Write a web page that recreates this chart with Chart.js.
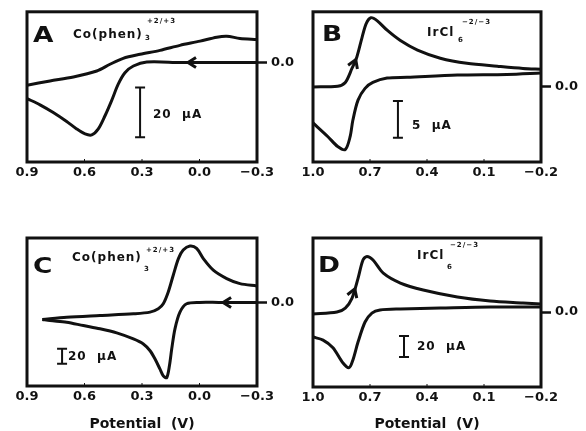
<!DOCTYPE html>
<html lang="en">
<head>
<meta charset="UTF-8">
<title>Cyclic voltammograms A-D</title>
<script src="https://cdn.jsdelivr.net/npm/chart.js"></script>
<style>
body { margin: 0; background: #fff; }
#wrap { position: relative; width: 586px; height: 431px; overflow: hidden; }
canvas { position: absolute; left: 0; top: 0; }
.t { position: absolute; font-family: "DejaVu Sans", sans-serif; font-weight: bold; color: #111; white-space: pre; line-height: 1; }
.big { font-size: 22px; transform: scaleX(1.2); transform-origin: left top; }
.sp { font-size: 12px; letter-spacing: 1px; }
.sm { font-size: 7px; letter-spacing: 1px; }
.bar { font-size: 12px; letter-spacing: 1px; }
</style>
</head>
<body>
<div id="wrap">
  <canvas id="cA" width="586" height="431"></canvas>
  <canvas id="cB" width="586" height="431"></canvas>
  <canvas id="cC" width="586" height="431"></canvas>
  <canvas id="cD" width="586" height="431"></canvas>

  <div class="t big" style="left:33px;top:24px">A</div>
  <div class="t sp" style="left:73px;top:28px">Co(phen)</div>
  <div class="t sm" style="left:145px;top:35px">3</div>
  <div class="t sm" style="left:147px;top:18px">+2/+3</div>
  <div class="t bar" style="left:153px;top:108px">20  µA</div>

  <div class="t big" style="left:322px;top:23px">B</div>
  <div class="t sp" style="left:427px;top:26px">IrCl</div>
  <div class="t sm" style="left:458px;top:37px">6</div>
  <div class="t sm" style="left:462px;top:19px">−2/−3</div>
  <div class="t bar" style="left:412px;top:119px">5  µA</div>

  <div class="t big" style="left:33px;top:255px">C</div>
  <div class="t sp" style="left:72px;top:251px">Co(phen)</div>
  <div class="t sm" style="left:144px;top:266px">3</div>
  <div class="t sm" style="left:146px;top:247px">+2/+3</div>
  <div class="t bar" style="left:68px;top:350px">20  µA</div>

  <div class="t big" style="left:318px;top:254px">D</div>
  <div class="t sp" style="left:417px;top:249px">IrCl</div>
  <div class="t sm" style="left:447px;top:264px">6</div>
  <div class="t sm" style="left:450px;top:242px">−2/−3</div>
  <div class="t bar" style="left:417px;top:340px">20  µA</div>
</div>
<script>
// potential (V) and current (uA)
const ticksCo = [0.9, 0.6, 0.3, 0.0, -0.3];
const ticksIr = [1.0, 0.7, 0.4, 0.1, -0.2];

const potA_fwd = [-0.30, -0.10, 0.10, 0.275, 0.345, 0.389, 0.424, 0.459, 0.493, 0.528, 0.562, 0.597, 0.641, 0.693, 0.763, 0.832, 0.90];
const curA_fwd = [0, 0, 0, 0.2, -1.4, -4.1, -8.7, -15.4, -21.4, -26.7, -29.1, -28.7, -26.7, -23.7, -20.1, -17.0, -14.5];
const potA_rev = [0.90, 0.78, 0.658, 0.536, 0.467, 0.398, 0.31, 0.206, 0.102, -0.003, -0.09, -0.142, -0.211, -0.298];
const curA_rev = [-9.1, -7.4, -5.8, -3.4, -0.7, 1.7, 3.3, 4.9, 6.9, 8.6, 10.2, 10.6, 9.7, 9.3];

const potB_fwd = [1.0, 0.87, 0.83, 0.795, 0.77, 0.742, 0.72, 0.695, 0.663, 0.61, 0.54, 0.45, 0.33, 0.19, 0.03, -0.105, -0.2];
const curB_fwd = [-0.1, 0, 0.5, 2.4, 3.9, 6.6, 8.5, 9.3, 8.9, 7.6, 6.2, 4.9, 3.8, 3.1, 2.7, 2.4, 2.3];
const potB_rev = [-0.2, -0.02, 0.24, 0.505, 0.61, 0.685, 0.726, 0.763, 0.79, 0.805, 0.83, 0.87, 0.92, 1.0];
const curB_rev = [1.8, 1.6, 1.5, 1.2, 1.1, 0.5, -0.3, -1.9, -4.6, -6.9, -8.6, -8.2, -6.9, -5.0];

const potC_fwd = [-0.30, -0.10, 0.0, 0.067, 0.102, 0.128, 0.145, 0.157, 0.171, 0.189, 0.206, 0.232, 0.258, 0.293, 0.345, 0.432, 0.519, 0.606, 0.693, 0.78, 0.82];
const curC_fwd = [0, 0, 0, -1.8, -12.9, -35, -61.8, -84, -99.6, -97.3, -88.4, -75, -64, -55, -48.4, -40.4, -35, -30.7, -26.2, -24, -22.5];
const potC_rev = [0.82, 0.693, 0.519, 0.345, 0.258, 0.215, 0.189, 0.163, 0.137, 0.11, 0.085, 0.05, 0.015, -0.02, -0.072, -0.142, -0.211, -0.298];
const curC_rev = [-22.5, -19.6, -17.3, -15.1, -12.9, -8.4, -1.8, 13.8, 36, 58, 69.3, 74.7, 71.6, 58, 42.7, 31.6, 24.9, 21.8];

const potD_fwd = [1.0, 0.874, 0.83, 0.795, 0.763, 0.737, 0.716, 0.684, 0.63, 0.54, 0.42, 0.24, 0.068, -0.105, -0.2];
const curD_fwd = [-2, 0, 3.8, 13, 32, 49.5, 53, 49.5, 37, 27.6, 21, 14.3, 10.5, 8.6, 7.6];
const potD_rev = [-0.2, 0.068, 0.33, 0.54, 0.647, 0.69, 0.726, 0.763, 0.79, 0.81, 0.842, 0.895, 0.947, 1.0];
const curD_rev = [4.8, 4.8, 3.8, 2.9, 1.9, -1, -9.5, -28.6, -45.7, -53, -48.6, -34, -26.7, -23.8];

const INK = '#111';
const W = 586, H = 431;

// frame, scale bar, scan arrow, small inner ticks
const cvPlugin = {
  id: 'cv',
  afterDatasetsDraw(chart, args, opts) {
    const {ctx, chartArea: a, scales: {x, y}} = chart;
    ctx.save();
    ctx.strokeStyle = INK;
    ctx.lineWidth = 3;
    ctx.strokeRect(a.left, a.top, a.right - a.left, a.bottom - a.top);

    ctx.lineWidth = 1;
    opts.inner.forEach(v => {
      const px = x.getPixelForValue(v);
      ctx.beginPath(); ctx.moveTo(px, a.bottom); ctx.lineTo(px, a.bottom - 3); ctx.stroke();
    });

    // scale bar
    const bx = x.getPixelForValue(opts.bar.at);
    const b0 = y.getPixelForValue(opts.bar.from);
    const b1 = y.getPixelForValue(opts.bar.from - opts.bar.size);
    ctx.lineWidth = 2;
    ctx.beginPath();
    ctx.moveTo(bx, b0); ctx.lineTo(bx, b1);
    ctx.moveTo(bx - 5, b0); ctx.lineTo(bx + 5, b0);
    ctx.moveTo(bx - 5, b1); ctx.lineTo(bx + 5, b1);
    ctx.stroke();

    // scan direction arrow
    const ax = x.getPixelForValue(opts.arrow.v);
    const ay = y.getPixelForValue(opts.arrow.i);
    ctx.translate(ax, ay);
    ctx.rotate(opts.arrow.angle * Math.PI / 180);
    ctx.lineWidth = 3;
    ctx.lineJoin = 'miter';
    ctx.beginPath();
    ctx.moveTo(-8, -5); ctx.lineTo(0, 0); ctx.lineTo(-8, 5);
    ctx.stroke();
    ctx.restore();
  }
};

function fmt(v) {
  const s = Math.abs(v).toFixed(1);
  return v < -1e-9 ? '\u2212' + s : s;
}

function branch(pot, cur) {
  return {
    data: pot.map((v, i) => ({x: v, y: cur[i]})),
    showLine: true,
    borderColor: INK,
    borderWidth: 3,
    pointRadius: 0,
    tension: 0.3,
    fill: false
  };
}

function makePanel(id, box, xTicks, yMin, yMax, branches, bar, arrow, withTitle) {
  const axisW = 40;
  const axisH = withTitle ? H - box.bottom : 30;
  return new Chart(document.getElementById(id), {
    type: 'scatter',
    data: { datasets: branches },
    options: {
      responsive: false,
      animation: false,
      events: [],
      layout: { padding: { left: box.left, top: box.top, right: W - box.right - axisW, bottom: H - box.bottom - axisH } },
      plugins: {
        legend: { display: false },
        tooltip: { enabled: false },
        cv: { bar: bar, arrow: arrow, inner: xTicks.slice(1, -1) }
      },
      scales: {
        x: {
          type: 'linear',
          reverse: true,
          min: xTicks[xTicks.length - 1],
          max: xTicks[0],
          afterBuildTicks: s => { s.ticks = xTicks.map(v => ({value: v})); },
          afterFit: s => { s.height = axisH; },
          grid: { display: false, drawTicks: false },
          border: { display: false },
          ticks: {
            autoSkip: false, maxRotation: 0, padding: 3, color: INK,
            font: { family: 'DejaVu Sans', weight: 'bold', size: 13 },
            callback: v => fmt(v)
          },
          title: {
            display: withTitle,
            text: 'Potential  (V)',
            color: INK,
            padding: 0,
            font: { family: 'DejaVu Sans', weight: 'bold', size: 14, lineHeight: 1 }
          }
        },
        y: {
          position: 'right',
          min: yMin,
          max: yMax,
          afterBuildTicks: s => { s.ticks = [{value: 0}]; },
          afterFit: s => { s.width = axisW; },
          grid: { drawOnChartArea: false, drawTicks: true, tickLength: 10, tickWidth: 2.5, tickColor: INK },
          border: { display: false },
          ticks: {
            padding: 4, color: INK,
            font: { family: 'DejaVu Sans', weight: 'bold', size: 13 },
            callback: () => '0.0'
          }
        }
      }
    },
    plugins: [cvPlugin]
  });
}

makePanel('cA', {left: 27, top: 11, right: 257, bottom: 162}, ticksCo, -40, 20.4,
  [branch(potA_fwd, curA_fwd), branch(potA_rev, curA_rev)],
  {at: 0.31, from: -10, size: 20}, {v: 0.06, i: 0, angle: 180}, false);

makePanel('cB', {left: 313, top: 11, right: 541, bottom: 162}, ticksIr, -10.3, 10.1,
  [branch(potB_fwd, curB_fwd), branch(potB_rev, curB_rev)],
  {at: 0.553, from: -2, size: 5}, {v: 0.775, i: 3.6, angle: -68}, false);

makePanel('cC', {left: 27, top: 238, right: 257, bottom: 386}, ticksCo, -110.7, 85.3,
  [branch(potC_fwd, curC_fwd), branch(potC_rev, curC_rev)],
  {at: 0.717, from: -61.3, size: 20}, {v: -0.123, i: 0, angle: 180}, true);

makePanel('cD', {left: 313, top: 238, right: 541, bottom: 387}, ticksIr, -71.4, 70.5,
  [branch(potD_fwd, curD_fwd), branch(potD_rev, curD_rev)],
  {at: 0.521, from: -22.9, size: 20}, {v: 0.78, i: 22, angle: -70}, true);
</script>
</body>
</html>
